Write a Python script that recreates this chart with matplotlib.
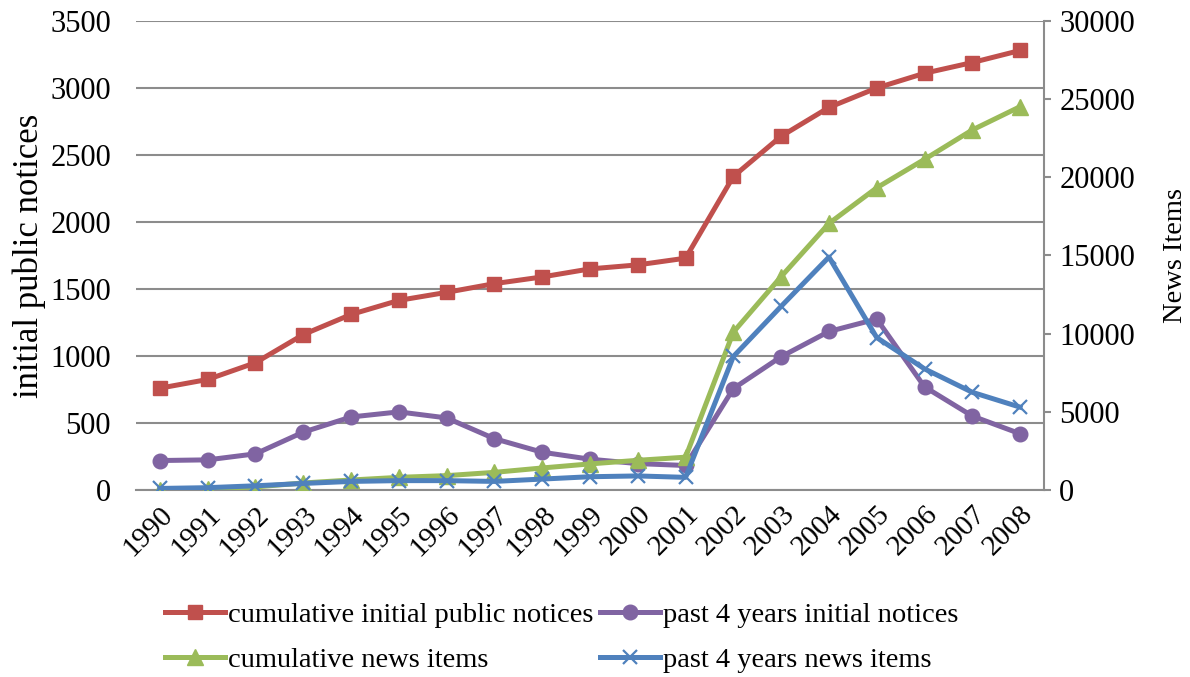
import numpy as np
import matplotlib.pyplot as plt
from matplotlib.ticker import MultipleLocator

plt.rcParams['font.family'] = ['Liberation Serif', 'DejaVu Serif']

# yearly series
years = [str(y) for y in range(1990, 2009)]
cum_notices = [760, 825, 950, 1160, 1310, 1415, 1475, 1540, 1590, 1650, 1680, 1730,
               2340, 2640, 2855, 3000, 3110, 3190, 3280]
past4_notices = [220, 225, 270, 432, 545, 583, 538, 383, 282, 230, 197, 183,
                 757, 995, 1183, 1276, 770, 552, 420]
cum_news = [0, 60, 200, 450, 640, 810, 920, 1130, 1410, 1670, 1900, 2100,
            10100, 13650, 17050, 19330, 21150, 23030, 24520]
past4_news = [100, 150, 270, 420, 550, 600, 600, 550, 700, 850, 900, 810,
              8540, 11750, 14900, 9750, 7750, 6250, 5300]

red = '#C0504D'
purple = '#8064A2'
green = '#9BBB59'
blue = '#4F81BD'
grid_c = '#8C8C8C'

x = np.arange(len(years))

fig = plt.figure(figsize=(11.9, 6.77), dpi=100)
ax = fig.add_axes([0.1143, 0.2762, 0.7630, 0.6928])
ax2 = ax.twinx()

l1, = ax.plot(x, cum_notices, color=red, lw=3.6, marker='s', ms=10,
              label='cumulative initial public notices')
l2, = ax.plot(x, past4_notices, color=purple, lw=3.6, marker='o', ms=10.5,
              label='past 4 years initial notices')
l3, = ax2.plot(x, cum_news, color=green, lw=3.6, marker='^', ms=11,
               label='cumulative news items')
l4, = ax2.plot(x, past4_news, color=blue, lw=3.6, marker='x', ms=10, mew=1.6,
               label='past 4 years news items')

ax.set_xlim(-0.5, len(years) - 0.5)
ax.set_ylim(0, 3500)
ax2.set_ylim(0, 30000)
ax.yaxis.set_major_locator(MultipleLocator(500))
ax2.yaxis.set_major_locator(MultipleLocator(5000))

ax.grid(axis='y', color=grid_c, lw=1.5)
ax.set_axisbelow(True)
for s in ['top', 'left']:
    ax.spines[s].set_visible(False)
    ax2.spines[s].set_visible(False)
ax.spines['right'].set_visible(False)
ax2.spines['bottom'].set_visible(False)
ax.spines['bottom'].set_color(grid_c)
ax.spines['bottom'].set_linewidth(1.5)
ax2.spines['right'].set_color(grid_c)
ax2.spines['right'].set_linewidth(1.5)

ax.set_xticks(x)
ax.set_xticklabels(years, rotation=45, ha='right', rotation_mode='anchor')
ax.tick_params(axis='x', length=0, labelsize=21, pad=8)
ax.tick_params(axis='y', length=0, labelsize=22, pad=18)
ax2.tick_params(axis='y', length=5, width=1.5, color=grid_c, labelsize=22, pad=6)

ax.set_ylabel('initial public notices', fontsize=25, labelpad=3)
ax2.set_ylabel('News Items', fontsize=20.5, labelpad=20)

# legend filled column by column, so interleave to get the two rows
fig.legend(handles=[l1, l3, l2, l4], loc='upper left', bbox_to_anchor=(0.129, 0.127),
           ncol=2, frameon=False, fontsize=20.5, handlelength=2.1, handletextpad=0.1,
           columnspacing=0.25, labelspacing=0.65, borderaxespad=0)

fig.savefig('out.png', dpi=100)
